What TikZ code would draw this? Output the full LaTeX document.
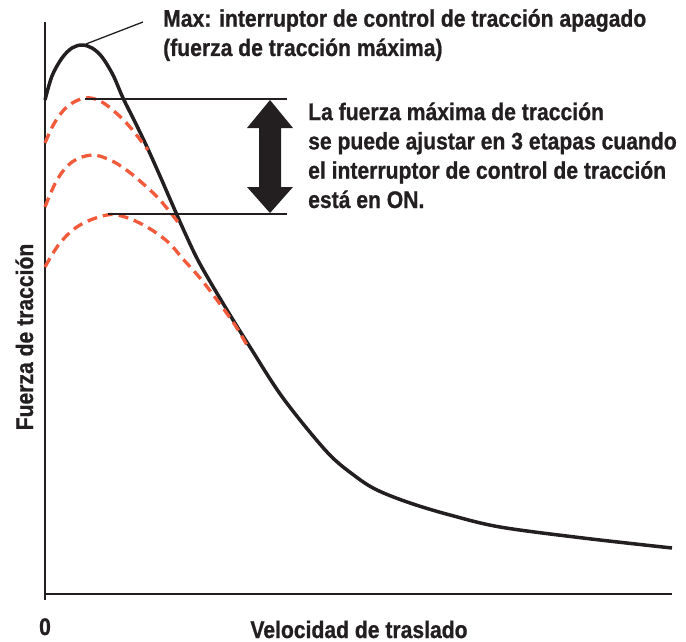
\documentclass[tikz,border=0pt]{standalone}
\usepackage{fontspec}
\setmainfont{Liberation Sans}[FakeStretch=0.88, BoldFeatures={FakeBold=0.8}]
\usetikzlibrary{positioning}

\definecolor{inkblack}{HTML}{231F20}
\definecolor{stagered}{HTML}{F15A3A}

\begin{document}
\begin{tikzpicture}[x=1pt, y=-1pt]
    \tikzset{note/.style={inner sep=0pt, align=left, text=inkblack, font=\fontsize{24}{29.3}\selectfont\bfseries},
             curve/.style={draw=inkblack, line width=3.5pt, line join=round},
             stage/.style={draw=stagered, line width=3.3pt, dash pattern=on 10pt off 6pt},
             guide/.style={draw=inkblack, line width=1.3pt}}

    \useasboundingbox (0,0) rectangle (686,642);

    % Axes
    \coordinate (ytop)    at (45,22);
    \coordinate (ybottom) at (45,600);
    \coordinate (origin)  at (45,594);
    \coordinate (xend)    at (672,594);
    \draw[guide, line width=1.5pt] (ytop) -- (ybottom);
    \draw[guide, line width=1.5pt] (origin) -- (xend);

    % Axis labels
    \node[note, anchor=base] (zero)   at (45,635)  {0};
    \node[note, anchor=base] (xlabel) at (359,638) {Velocidad de traslado};
    \node[note, anchor=base, rotate=90] (ylabel) at (33,337) {Fuerza de tracción};

    % Tractive force, control switch off
    \draw[curve] plot[smooth, tension=0.55] coordinates {(45,100) (52,76) (62,58) (72,48) (82,45) (92,48) (102,57) (113,75) (123,98)
        (135,122) (147,147) (160,176) (170,199) (185,233) (200,264) (227,310) (250,347) (283,398) (327,452) (355,476)
        (377,490) (410,503) (450,515) (500,527) (583,538) (672,548)};

    % Three stages, control switch on
    \draw[stage] plot[smooth, tension=0.6] coordinates {(45,143) (55,122) (68,106) (85,98) (100,101) (115,112) (130,127) (148,150)};
    \draw[stage] plot[smooth, tension=0.6] coordinates {(45,207) (57,180) (72,162) (92,155) (110,160) (125,169) (140,181) (160,200) (181,226)};
    \draw[stage] plot[smooth, tension=0.6] coordinates {(45,267) (60,243) (80,225) (107,215) (125,217) (147,227) (168,242) (183,259)
        (200,278) (217,300) (235,325) (248,347)};

    % Adjustable range
    \coordinate (topstage) at (85,99);
    \coordinate (topend)   at (287,99);
    \coordinate (lowstage) at (108,214);
    \coordinate (lowend)   at (287,214);
    \draw[guide] (topstage) -- (topend);
    \draw[guide] (lowstage) -- (lowend);
    \fill[inkblack] (270,100) -- (293,128) -- (281,128) -- (281,187) -- (293,187) -- (270,213)
        -- (247,187) -- (259,187) -- (259,128) -- (247,128) -- cycle;

    % Notes (base is the last line)
    \coordinate (peak)    at (86,44);
    \coordinate (peaktip) at (143,22);
    \draw[guide] (peak) -- (peaktip);
    \node[note, anchor=base west] (maxnote) at (163,56) {Max: interruptor de control de tracción apagado\\(fuerza de tracción máxima)};
    \node[note, anchor=base west] (rangenote) at (308,208) {La fuerza máxima de tracción\\se puede ajustar en 3 etapas cuando\\el interruptor de control de tracción\\está en ON.};
\end{tikzpicture}
\end{document}
